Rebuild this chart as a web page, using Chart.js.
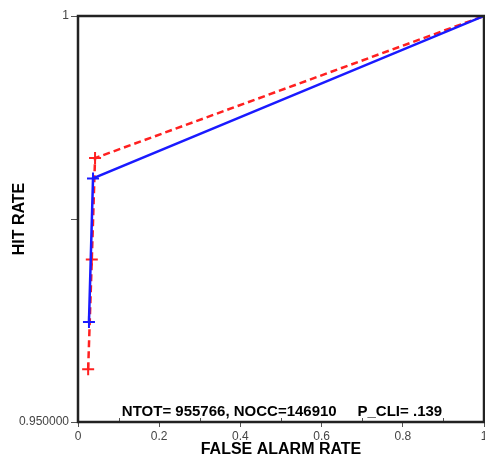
<!DOCTYPE html>
<html>
<head>
<meta charset="utf-8">
<script src="https://cdn.jsdelivr.net/npm/chart.js@4"></script>
<style>
  html, body { margin: 0; padding: 0; background: #fff; }
  #wrap { width: 485px; height: 459px; }
</style>
</head>
<body>
<div id="wrap"><canvas id="roc"></canvas></div>
<script>
/* DATA */
const redFar = [0.025, 0.034, 0.042, 1];
const redHit = [0.9565, 0.970, 0.9825, 1];
const blueFar = [0.027, 0.037, 1];
const blueHit = [0.9623, 0.980, 1];
const xTicks = [0, 0.2, 0.4, 0.6, 0.8, 1];
const xMinorTicks = [0.1, 0.3, 0.5, 0.7, 0.9];
const yTicks = [0.95, 0.975, 1];
const yTickLabels = { 0.95: '0.950000', 1: '1' };
const note = 'NTOT= 955766, NOCC=146910     P_CLI= .139';

const pts = (xs, ys) => xs.map((x, i) => ({ x: x, y: ys[i] }));

/* frame, minor ticks + annotation */
const framePlugin = {
  id: 'frame',
  afterDraw(chart) {
    const { ctx, chartArea: a } = chart;
    const xs = chart.scales.x;
    ctx.save();
    ctx.strokeStyle = '#555';
    ctx.lineWidth = 1;
    xMinorTicks.forEach(v => {
      const px = Math.round(xs.getPixelForValue(v)) + 0.5;
      ctx.beginPath();
      ctx.moveTo(px, a.bottom);
      ctx.lineTo(px, a.bottom - 4);
      ctx.stroke();
    });
    ctx.strokeStyle = '#222';
    ctx.lineWidth = 2.5;
    ctx.strokeRect(a.left, a.top, a.right - a.left, a.bottom - a.top);
    ctx.fillStyle = '#000';
    ctx.font = 'bold 15px "Liberation Sans", Arial, sans-serif';
    ctx.textAlign = 'center';
    ctx.textBaseline = 'alphabetic';
    ctx.fillText(note, 282, 416);
    ctx.restore();
  }
};

const ctx = document.getElementById('roc').getContext('2d');

const rocChart = new Chart(ctx, {
  type: 'line',
  data: {
    datasets: [{
      data: pts(blueFar, blueHit),
      borderColor: '#1a1aff',
      borderWidth: 2.5,
      pointStyle: 'cross',
      pointRadius: 6,
      pointBorderColor: '#1a1aff',
      pointBorderWidth: 2,
      tension: 0
    }, {
      data: pts(redFar, redHit),
      borderColor: '#ff2020',
      borderWidth: 2.5,
      borderDash: [7, 4],
      pointStyle: 'cross',
      pointRadius: 6,
      pointBorderColor: '#ff2020',
      pointBorderWidth: 2,
      tension: 0
    }]
  },
  options: {
    responsive: true,
    maintainAspectRatio: false,
    animation: false,
    layout: { autoPadding: false, padding: { top: 16, right: 1, left: 0, bottom: 0 } },
    plugins: { legend: { display: false }, tooltip: { enabled: false } },
    scales: {
      x: {
        type: 'linear',
        min: 0,
        max: 1,
        afterBuildTicks: s => { s.ticks = xTicks.map(v => ({ value: v })); },
        afterFit: s => { s.height = 37; s.paddingRight = 0; s.paddingLeft = 0; },
        grid: { drawOnChartArea: false, drawTicks: true, tickLength: 5, color: '#555' },
        border: { display: false },
        ticks: {
          color: '#444',
          font: { size: 12, family: '"Liberation Sans", Arial, sans-serif' },
          padding: 2,
          maxRotation: 0,
          callback: v => v === 0 || v === 1 ? String(v) : v.toFixed(1)
        },
        title: {
          display: true,
          text: 'FALSE ALARM RATE',
          color: '#000',
          font: { size: 16, weight: 'bold', family: '"Liberation Sans", Arial, sans-serif' },
          padding: { top: 0, bottom: 0 }
        }
      },
      y: {
        type: 'linear',
        min: 0.95,
        max: 1,
        afterBuildTicks: s => { s.ticks = yTicks.map(v => ({ value: v })); },
        afterFit: s => { s.width = 78; },
        grid: { drawOnChartArea: false, drawTicks: true, tickLength: 7, color: '#555' },
        border: { display: false },
        ticks: {
          color: '#444',
          font: { size: 12, family: '"Liberation Sans", Arial, sans-serif' },
          padding: 2,
          callback: v => yTickLabels[v] || ''
        },
        title: {
          display: true,
          text: 'HIT RATE',
          color: '#000',
          font: { size: 16, weight: 'bold', family: '"Liberation Sans", Arial, sans-serif' },
          padding: { top: 10, bottom: 0 }
        }
      }
    }
  },
  plugins: [framePlugin]
});
</script>
</body>
</html>
